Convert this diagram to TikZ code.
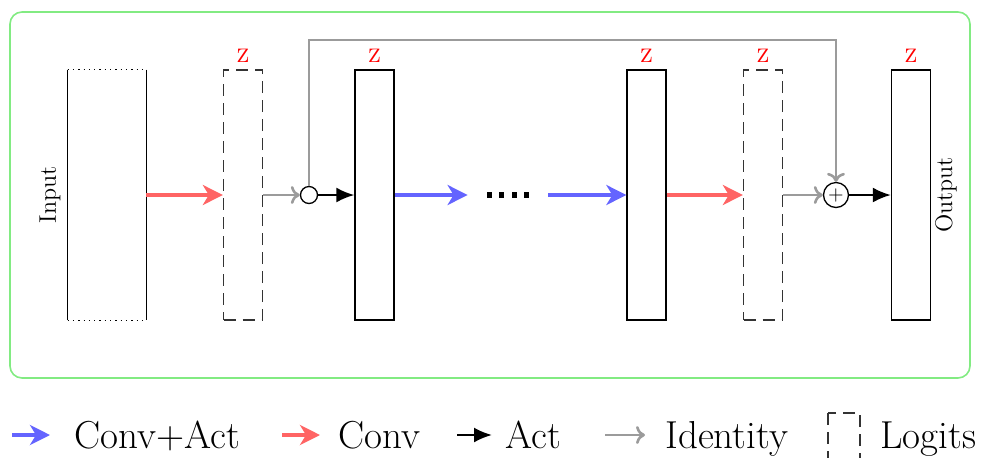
\documentclass[tikz,border=0pt]{standalone}
\usetikzlibrary{arrows.meta,positioning}

\definecolor{convactcol}{RGB}{100,100,255}
\definecolor{convcol}{RGB}{255,100,100}
\definecolor{identcol}{RGB}{155,155,155}
\definecolor{framecol}{RGB}{130,235,130}

\tikzset{
  layer/.style={draw, line width=0.65pt, minimum width=19.5pt, minimum height=125pt, inner sep=0pt},
  logits/.style={layer, dash pattern=on 6pt off 3.5pt, draw=black!80},
  zlab/.style={label={[red, inner sep=0pt, font=\fontsize{13}{15}\selectfont, label distance=3pt]above:\textsc{z}}},
  side/.style={font=\fontsize{12}{14}\selectfont, rotate=90, inner sep=0pt},
  convact/.style={draw=convactcol, line width=2pt, -{Stealth[length=10pt, width=10pt, inset=3pt]}},
  conv/.style={draw=convcol, line width=2pt, -{Stealth[length=10pt, width=10pt, inset=3pt]}},
  act/.style={draw=black, line width=1.1pt, -{Latex[length=9pt, width=7.5pt]}},
  ident/.style={draw=identcol, line width=1.3pt, -{To[length=4.5pt, width=9pt]}},
  legtext/.style={font=\fontsize{19.5}{23}\selectfont, inner sep=0pt, anchor=west, text height=13.3pt, text depth=0pt}
}

\begin{document}
\begin{tikzpicture}[x=0.5pt, y=-0.5pt]
\useasboundingbox (0,0) rectangle (981,457);

% frame
\draw[framecol, line width=0.8pt, rounded corners=6pt] (10,12) rectangle (970,378);

% layers
\node[minimum width=39pt, minimum height=125pt, inner sep=0pt] (inp) at (107,195) {};
\draw[line width=0.65pt] (inp.north west) -- (inp.south west);
\draw[line width=0.65pt] (inp.north east) -- (inp.south east);
\draw[dotted, line width=0.65pt] (inp.north west) -- (inp.north east);
\draw[dotted, line width=0.65pt] (inp.south west) -- (inp.south east);
\node[side] (inplab) at (50,195) {Input};

\node[logits, zlab] (lg1) at (243,195) {};
\node[draw, circle, line width=0.65pt, minimum size=8.5pt, inner sep=0pt] (junc) at (309,195) {};
\node[layer, zlab] (h1) at (374.5,195) {};
\node[minimum width=40pt, minimum height=10pt] (dots) at (508,195) {};
\foreach \i in {-1.5,-0.5,0.5,1.5}
  \fill ([xshift=\i*6.2pt]dots.center) ++(-1.3pt,-1.3pt) rectangle ++(2.6pt,2.6pt);
\node[layer, zlab] (h2) at (646.5,195) {};
\node[logits, zlab] (lg2) at (763,195) {};
\node[draw, circle, line width=0.65pt, minimum size=12.5pt, inner sep=0pt] (add) at (836,195) {$+$};
\node[layer, zlab] (out) at (911,195) {};
\node[side] (outlab) at (946,195) {Output};

% connections
\draw[conv] (inp.east) -- (lg1.west);
\draw[ident] (lg1.east) -- (junc.west);
\draw[act] (junc.east) -- (h1.west);
\draw[convact] (h1.east) -- (dots.west);
\draw[convact] (dots.east) -- (h2.west);
\draw[conv] (h2.east) -- (lg2.west);
\draw[ident] (lg2.east) -- (add.west);
\draw[act] (add.east) -- (out.west);
\coordinate (skip) at (309,40);
\draw[ident] (junc.north) -- (skip) -| (add.north);

% legend
\coordinate (k1a) at (12,435);  \coordinate (k1b) at (50,435);
\coordinate (k2a) at (282,435); \coordinate (k2b) at (320,435);
\coordinate (k3a) at (457,435); \coordinate (k3b) at (492,435);
\coordinate (k4a) at (605,435); \coordinate (k4b) at (645,435);
\draw[convact] (k1a) -- (k1b);
\node[legtext, right=12pt of k1b] (t1) {Conv+Act};
\draw[conv] (k2a) -- (k2b);
\node[legtext, right=9pt of k2b] (t2) {Conv};
\draw[act] (k3a) -- (k3b);
\node[legtext, right=6.5pt of k3b] (t3) {Act};
\draw[ident] (k4a) -- (k4b);
\node[legtext, right=10pt of k4b] (t4) {Identity};
\draw[dash pattern=on 6pt off 3.5pt, line width=0.65pt, draw=black!80] (828,413) rectangle (860,480);
\node[legtext] (t5) at (880,435) {Logits};
\end{tikzpicture}
\end{document}
